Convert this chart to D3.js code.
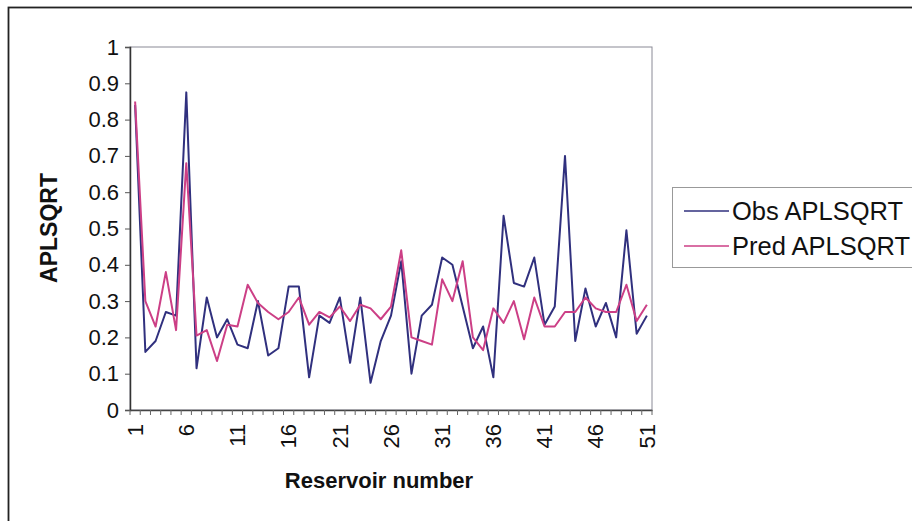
<!DOCTYPE html>
<html>
<head>
<meta charset="utf-8">
<script src="https://cdn.jsdelivr.net/npm/d3@7"></script>
<style>
  body { margin: 0; background: #fff; }
  text { font-family: Arial, "Liberation Sans", sans-serif; fill: #111; }
</style>
</head>
<body>
<div id="chart"></div>
<script>
// reservoir numbers 1..51
const reservoirs = [1,2,3,4,5,6,7,8,9,10,11,12,13,14,15,16,17,18,19,20,21,22,23,24,25,26,
  27,28,29,30,31,32,33,34,35,36,37,38,39,40,41,42,43,44,45,46,47,48,49,50,51];

const obsValues = [0.84,0.16,0.19,0.27,0.26,0.875,0.115,0.31,0.20,0.25,0.18,0.17,0.30,0.15,0.17,0.34,0.34,0.09,
  0.26,0.24,0.31,0.13,0.31,0.075,0.19,0.26,0.41,0.10,0.26,0.29,0.42,0.40,0.285,0.17,0.23,0.09,
  0.535,0.35,0.34,0.42,0.235,0.285,0.70,0.19,0.335,0.23,0.295,0.20,0.495,0.21,0.26];

// predicted values
const predValues = [0.85,0.30,0.23,0.38,0.22,0.68,0.205,0.22,0.135,0.235,0.23,0.345,0.295,0.27,0.25,0.27,0.31,0.235,
  0.27,0.255,0.285,0.245,0.29,0.28,0.25,0.285,0.44,0.20,0.19,0.18,0.36,0.30,0.41,0.20,0.165,0.28,
  0.24,0.30,0.195,0.31,0.23,0.23,0.27,0.27,0.31,0.28,0.27,0.27,0.345,0.245,0.29];

const seriesNames = ["Obs APLSQRT", "Pred APLSQRT"];
const seriesColors = ["#30307e", "#cc3f86"];
const yTicks = [0,0.1,0.2,0.3,0.4,0.5,0.6,0.7,0.8,0.9,1];
const xLabels = [1,6,11,16,21,26,31,36,41,46,51];

const width = 912, height = 521;
const plot = {left: 130, right: 652, top: 47, bottom: 410};

var svg = d3.select("#chart").append("svg")
    .attr("width", width)
    .attr("height", height);

// outer chart border (right and bottom edges fall outside the picture)
svg.append("rect")
    .attr("x", 8.5).attr("y", 7.5)
    .attr("width", 940).attr("height", 540)
    .attr("fill", "none")
    .attr("stroke", "#222")
    .attr("stroke-width", 1.8);

var x = d3.scaleBand()
    .domain(reservoirs)
    .range([plot.left, plot.right])
    .padding(0);

var y = d3.scaleLinear()
    .domain([0, 1])
    .range([plot.bottom, plot.top]);

// plot area frame (top and right are light)
svg.append("rect")
    .attr("x", plot.left).attr("y", plot.top)
    .attr("width", plot.right - plot.left)
    .attr("height", plot.bottom - plot.top)
    .attr("fill", "none")
    .attr("stroke", "#8a8a96")
    .attr("stroke-width", 1);

// y axis
var yAxis = svg.append("g")
    .attr("transform", "translate(" + plot.left + ",0)")
    .call(d3.axisLeft(y).tickValues(yTicks).tickSize(5).tickPadding(6)
        .tickFormat(d => String(+d.toFixed(1))));
yAxis.select(".domain").attr("stroke", "#333").attr("stroke-width", 1.5);
yAxis.selectAll(".tick line").attr("stroke", "#555");
yAxis.selectAll("text").style("font-size", "22px").attr("fill", "#111");

// x axis: labels every 5th reservoir, rotated
var xAxis = svg.append("g")
    .attr("transform", "translate(0," + plot.bottom + ")")
    .call(d3.axisBottom(x).tickValues(xLabels).tickSize(0));
xAxis.select(".domain").attr("stroke", "#444").attr("stroke-width", 1.5);
xAxis.selectAll("text")
    .style("font-size", "22px")
    .attr("fill", "#111")
    .attr("transform", "rotate(-90)")
    .attr("text-anchor", "end")
    .attr("x", -14)
    .attr("y", 0)
    .attr("dy", "0.35em");

// small tick marks between categories
var bounds = reservoirs.map(d => x(d)).concat([x(51) + x.bandwidth()]);
svg.append("g")
    .selectAll("line")
    .data(bounds)
    .enter()
    .append("line")
    .attr("x1", d => d).attr("x2", d => d)
    .attr("y1", plot.bottom).attr("y2", plot.bottom + 5)
    .attr("stroke", "#666")
    .attr("stroke-width", 1);

// the two lines
var line = d3.line()
    .x((d, i) => x(reservoirs[i]) + x.bandwidth() / 2)
    .y(d => y(d));

[obsValues, predValues].forEach(function(vals, k) {
    svg.append("path")
        .datum(vals)
        .attr("fill", "none")
        .attr("stroke", seriesColors[k])
        .attr("stroke-width", 2)
        .attr("stroke-linejoin", "round")
        .attr("d", line);
});

// axis titles
svg.append("text")
    .attr("x", 379).attr("y", 488)
    .attr("text-anchor", "middle")
    .style("font-size", "22px")
    .style("font-weight", "bold")
    .text("Reservoir number");

svg.append("text")
    .attr("transform", "translate(57,228) rotate(-90)")
    .attr("text-anchor", "middle")
    .style("font-size", "23px")
    .style("font-weight", "bold")
    .text("APLSQRT");

// legend
var legend = svg.append("g");
legend.append("rect")
    .attr("x", 672.5).attr("y", 187.5)
    .attr("width", 260).attr("height", 80)
    .attr("fill", "#fff")
    .attr("stroke", "#999");

seriesNames.forEach(function(name, k) {
    var ly = 211 + k * 35;
    legend.append("line")
        .attr("x1", 684).attr("x2", 729)
        .attr("y1", ly).attr("y2", ly)
        .attr("stroke", seriesColors[k])
        .attr("stroke-width", 1.5);
    legend.append("text")
        .attr("x", 732).attr("y", ly)
        .attr("dy", "0.35em")
        .style("font-size", "25.5px")
        .text(name);
});
</script>
</body>
</html>
